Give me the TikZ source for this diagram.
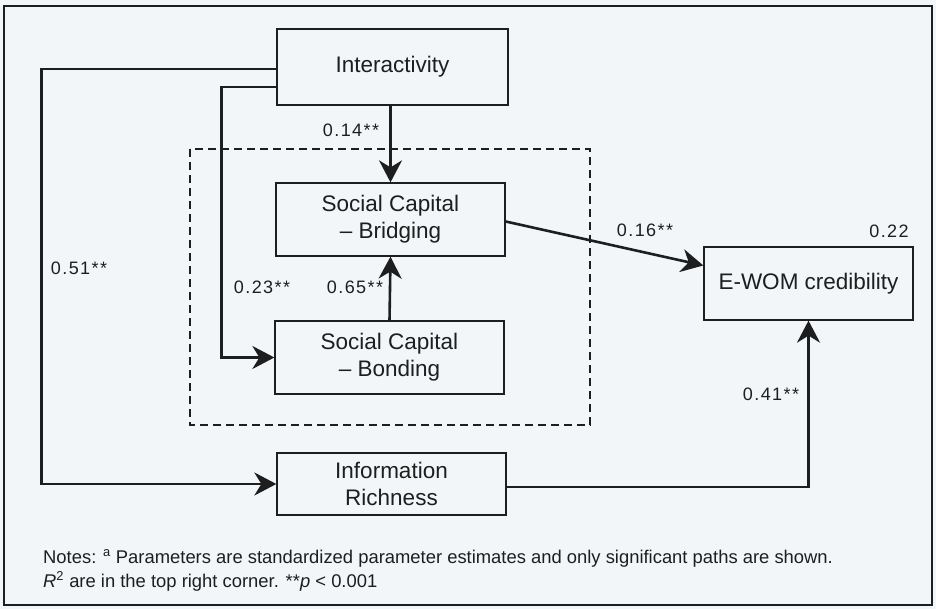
\documentclass[tikz,border=0pt]{standalone}
\usepackage{fontspec}
\setmainfont{Liberation Sans}
\newfontfamily\coeffont[LetterSpace=8]{Liberation Sans}
\usetikzlibrary{arrows.meta}
\definecolor{paper}{HTML}{F2F6F9}
\definecolor{ink}{HTML}{1E1E1E}
\begin{document}
\begin{tikzpicture}[x=1pt,y=-1pt,
  box/.style={draw=ink,line width=1.3pt,fill=paper,align=center,inner sep=0pt,
    font=\fontsize{22.5}{27}\selectfont,text=ink},
  arr/.style={draw=ink,line width=2.6pt,-{Stealth[length=22pt,width=23pt,inset=7pt]}},
  coef/.style={font=\coeffont\fontsize{18}{20}\selectfont,text=ink,inner sep=0pt},
  note/.style={font=\fontsize{18.4}{20}\selectfont,text=ink,inner sep=0pt,anchor=base west}]
  % canvas and outer frame
  \fill[paper] (0,0) rectangle (936,609);
  \useasboundingbox (0,0) rectangle (936,609);
  \draw[ink,line width=1.6pt] (4,6) rectangle (932,605);
  % grouping of the two social capital constructs
  \draw[ink,line width=1.4pt,dash pattern=on 8pt off 5pt] (190,149) rectangle (590,425);
  % constructs
  \node[box,minimum width=231pt,minimum height=76pt] (inter) at (392.5,67) {Interactivity};
  \node[box,minimum width=229pt,minimum height=73pt] (bridge) at (390.5,219.5) {Social Capital\\ -- Bridging};
  \node[box,minimum width=229pt,minimum height=73pt] (bond) at (389.5,357.5) {Social Capital\\ -- Bonding};
  \node[box,minimum width=209pt,minimum height=73pt] (ewom) at (808.5,283.5) {E-WOM credibility};
  \node[box,minimum width=229pt,minimum height=62pt] (info) at (391.5,484) {Information\\ Richness};
  % structural paths
  \draw[arr] ([yshift=-2pt]inter.west) -- ++(-235,0) |- (info.west);
  \draw[arr] ([yshift=-20pt]inter.west) -- ++(-55,0) |- (bond.west);
  \draw[arr] (bridge.north |- inter.south) -- (bridge.north);
  \draw[arr] (bond.north) -- (bridge.south);
  \draw[arr] ([yshift=-2pt]bridge.east) -- ([yshift=18pt]ewom.west);
  \draw[arr] ([yshift=-3pt]info.east) -| (ewom.south);
  % path coefficients and R-squared
  \node[coef] (c14) at (351,130) {0.14**};
  \node[coef] (c51) at (79,268) {0.51**};
  \node[coef] (c23) at (262,287) {0.23**};
  \node[coef] (c65) at (355,287) {0.65**};
  \node[coef] (c16) at (645,230) {0.16**};
  \node[coef] (r22) at (889,231) {0.22};
  \node[coef] (c41) at (771,394) {0.41**};
  % notes
  \node[note] (n1) at (43,563) {Notes: \textsuperscript{a} Parameters are standardized parameter estimates and only significant paths are shown.};
  \node[note] (n2) at (43,587) {\textit{R}\textsuperscript{2} are in the top right corner. **\textit{p} < 0.001};
\end{tikzpicture}
\end{document}
